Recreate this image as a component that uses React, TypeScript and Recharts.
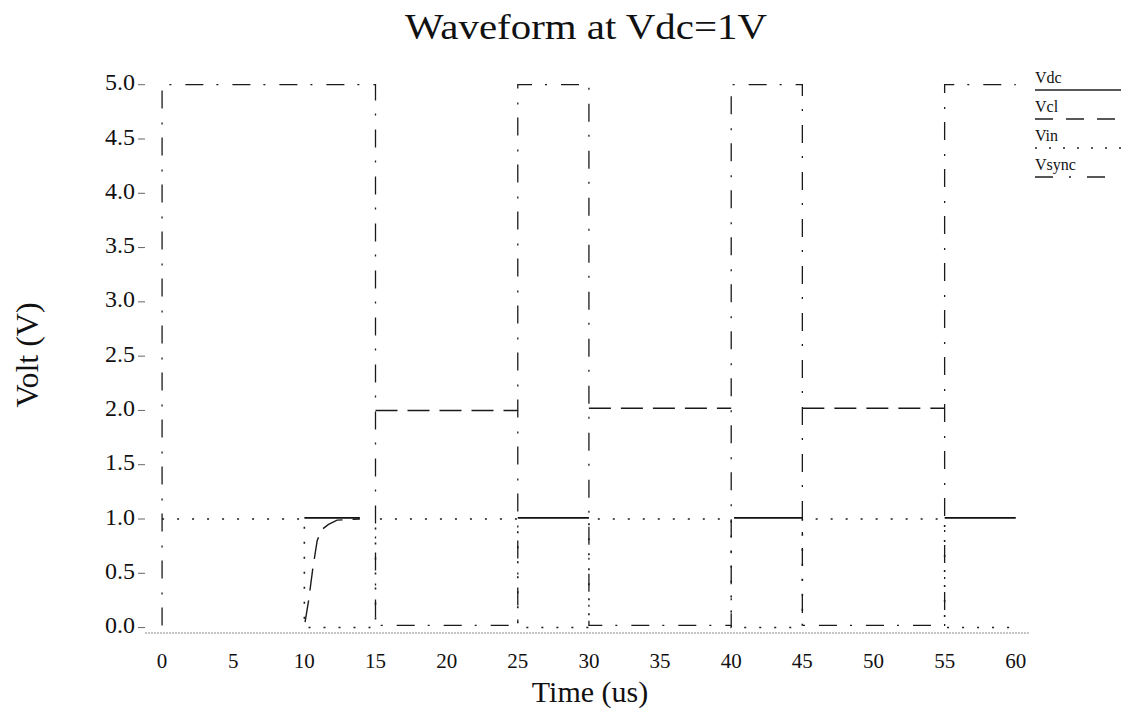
import React from "react";
import { LineChart, Line, XAxis, YAxis } from "recharts";

// Time axis (us) and volt axis tick values
const timeTicks = [0, 5, 10, 15, 20, 25, 30, 35, 40, 45, 50, 55, 60];
const voltTicks = [0, 0.5, 1, 1.5, 2, 2.5, 3, 3.5, 4, 4.5, 5];

// Vsync: square wave between ~0 V and 5 V
const vsyncTime = [0, 0, 15, 15, 25, 25, 30, 30, 40, 40, 45, 45, 55, 55, 60];
const vsyncVolt = [0.02, 5, 5, 0.02, 0.02, 5, 5, 0.02, 0.02, 5, 5, 0.02, 0.02, 5, 5];

// Vin: 1 V while sync is low, 0 V while sync is high
const vinTime = [0, 10, 10, 15, 15, 25, 25, 30, 30, 40, 40, 45, 45, 55, 55, 60];
const vinVolt = [1, 1, 0, 0, 1, 1, 0, 0, 1, 1, 0, 0, 1, 1, 0, 0];

// Vdc: 1 V segments (null breaks the trace)
const vdcTime = [10, 13.9, 14.5, 25, 30, 30.5, 40.2, 45, 45.5, 55, 60];
const vdcVolt = [1.01, 1.01, null, 1.01, 1.01, null, 1.01, 1.01, null, 1.01, 1.01];

// Vcl: clamp output, charging curve then 2 V plateaus
const vclTime = [10.05, 10.3, 10.6, 10.9, 11.2, 11.7, 12.3, 13.9, 14.5, 15, 25, 25.5, 30, 40, 40.5, 45, 55];
const vclVolt = [0.05, 0.25, 0.55, 0.8, 0.9, 0.95, 0.99, 1.0, null, 2.0, 2.0, null, 2.02, 2.02, null, 2.02, 2.02];

const toRows = (ts: number[], vs: (number | null)[]) => ts.map((t, i) => ({ t, v: vs[i] }));

const vsyncData = toRows(vsyncTime, vsyncVolt);
const vinData = toRows(vinTime, vinVolt);
const vdcData = toRows(vdcTime, vdcVolt);
const vclData = toRows(vclTime, vclVolt);

const SERIF = "'Liberation Serif', 'DejaVu Serif', serif";

const DASH_VCL = "22 10";
const DASH_VIN = "2 13";
const DASH_VSYNC = "18 13 2 14";

const legendItems = [
  { name: "Vdc", dash: undefined as string | undefined },
  { name: "Vcl", dash: "18 13" },
  { name: "Vin", dash: "2 12" },
  { name: "Vsync", dash: "18 16 2 16" },
];

const LegendBox = () => (
  <svg width={92} height={120} style={{ display: "block" }}>
    {legendItems.map((it, i) => (
      <g key={it.name}>
        <text x={0} y={13 + i * 29} fontFamily={SERIF} fontSize={16} fill="#111">
          {it.name}
        </text>
        <line
          x1={0}
          x2={86}
          y1={20 + i * 29}
          y2={20 + i * 29}
          stroke="#222"
          strokeWidth={1.3}
          strokeDasharray={it.dash}
        />
      </g>
    ))}
  </svg>
);

export default function App() {
  return (
    <div style={{ position: "absolute", left: 0, top: 0, width: 1127, height: 713, background: "#fff" }}>
      <LineChart
        width={1127}
        height={713}
        margin={{ top: 63, right: 97, bottom: 40, left: 85 }}
        style={{ position: "absolute", left: 0, top: 0 }}
      >
        <XAxis
          dataKey="t"
          type="number"
          domain={[-1.2, 61]}
          ticks={timeTicks}
          allowDataOverflow
          height={40}
          tickSize={0}
          tickMargin={20}
          tickLine={false}
          axisLine={{ stroke: "#8a8a8a", strokeWidth: 1, strokeDasharray: "2 1" }}
          tick={{ fontFamily: SERIF, fontSize: 21, fill: "#111" }}
          label={{
            value: "Time (us)",
            content: () => (
              <text x={590} y={702} textAnchor="middle" fontFamily={SERIF} fontSize={30} fill="#111">
                Time (us)
              </text>
            ),
          }}
        />
        <YAxis
          type="number"
          domain={[-0.05, 5.2]}
          ticks={voltTicks}
          allowDataOverflow
          width={60}
          tickSize={7}
          tickMargin={3}
          axisLine={false}
          tickLine={{ stroke: "#666", strokeWidth: 1 }}
          tickFormatter={(v: number) => v.toFixed(1)}
          tick={{ fontFamily: SERIF, fontSize: 24, fill: "#111", dy: -3 }}
          label={{
            value: "Volt (V)",
            content: () => (
              <text
                x={38}
                y={355}
                textAnchor="middle"
                fontFamily={SERIF}
                fontSize={32}
                fill="#111"
                transform="rotate(-90 38 355)"
              >
                Volt (V)
              </text>
            ),
          }}
        />
        <Line
          name="Vsync"
          data={vsyncData}
          dataKey="v"
          type="linear"
          stroke="#1a1a1a"
          strokeWidth={1.3}
          strokeDasharray={DASH_VSYNC}
          dot={false}
          activeDot={false}
          isAnimationActive={false}
        />
        <Line
          name="Vin"
          data={vinData}
          dataKey="v"
          type="linear"
          stroke="#1a1a1a"
          strokeWidth={1.6}
          strokeDasharray={DASH_VIN}
          dot={false}
          activeDot={false}
          isAnimationActive={false}
        />
        <Line
          name="Vcl"
          data={vclData}
          dataKey="v"
          type="linear"
          stroke="#1a1a1a"
          strokeWidth={1.4}
          strokeDasharray={DASH_VCL}
          dot={false}
          activeDot={false}
          isAnimationActive={false}
        />
        <Line
          name="Vdc"
          data={vdcData}
          dataKey="v"
          type="linear"
          stroke="#111"
          strokeWidth={1.6}
          dot={false}
          activeDot={false}
          isAnimationActive={false}
        />
      </LineChart>
      <svg
        width={1127}
        height={60}
        style={{ position: "absolute", left: 0, top: 0, pointerEvents: "none" }}
      >
        <text
          x={405}
          y={39}
          fontFamily={SERIF}
          fontSize={36}
          fill="#111"
          textLength={362}
          lengthAdjust="spacingAndGlyphs"
        >
          Waveform at Vdc=1V
        </text>
      </svg>
      <div style={{ position: "absolute", left: 1035, top: 70, width: 92 }}>
        <LegendBox />
      </div>
    </div>
  );
}
